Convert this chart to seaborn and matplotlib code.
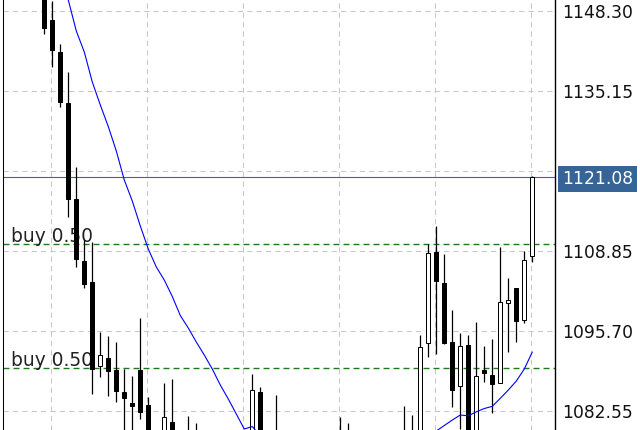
import matplotlib
matplotlib.use("Agg")
import matplotlib.pyplot as plt
import seaborn as sns
import numpy as np

# candles, oldest first; values under ~1079.5 sit below the visible window
opens = [1151.80, 1146.87, 1141.61, 1133.18, 1117.40, 1107.26, 1103.75, 1089.95,
         1091.26, 1089.34, 1085.72, 1083.91, 1089.34, 1083.59, 1078.33, 1077.83,
         1080.74, 1078.20, 1078.49, 1078.33, 1077.00, 1075.00, 1072.50, 1073.00,
         1074.50, 1073.50, 1077.01, 1085.67, 1077.80, 1075.50, 1077.00, 1074.00,
         1072.00, 1073.50, 1075.00, 1073.00, 1071.50, 1074.50, 1076.50, 1074.00,
         1072.50, 1074.00, 1076.50, 1074.00, 1075.50, 1077.00, 1078.00, 1076.00,
         1093.83, 1108.74, 1103.64, 1093.94, 1086.76, 1093.45, 1077.90, 1089.34,
         1088.57, 1087.15, 1100.30, 1102.78, 1097.51, 1108.03]
highs = [1153.44, 1149.99, 1142.92, 1138.32, 1122.76, 1110.71, 1110.33, 1095.54,
         1094.88, 1093.94, 1089.50, 1088.35, 1097.84, 1084.85, 1078.65, 1087.15,
         1087.81, 1079.00, 1081.78, 1080.71, 1078.50, 1076.50, 1074.00, 1075.50,
         1077.00, 1078.00, 1088.68, 1086.50, 1079.00, 1085.23, 1078.50, 1076.00,
         1074.50, 1076.00, 1077.50, 1075.00, 1075.50, 1081.66, 1080.68, 1076.00,
         1075.00, 1077.50, 1078.50, 1076.00, 1078.00, 1083.42, 1081.94, 1095.09,
         1110.05, 1113.01, 1108.41, 1099.20, 1095.42, 1095.09, 1097.23, 1093.33,
         1094.43, 1109.51, 1104.41, 1102.78, 1108.95, 1121.28]
lows = [1144.62, 1139.19, 1132.62, 1114.49, 1106.32, 1102.87, 1085.34, 1088.24,
        1085.11, 1084.03, 1077.83, 1077.01, 1081.28, 1076.19, 1075.37, 1076.52,
        1076.19, 1075.50, 1075.86, 1075.37, 1074.00, 1071.50, 1070.00, 1071.00,
        1072.50, 1072.00, 1076.52, 1076.68, 1074.50, 1073.00, 1073.50, 1071.00,
        1069.50, 1071.50, 1072.00, 1070.50, 1070.00, 1072.50, 1072.00, 1071.50,
        1070.00, 1072.50, 1073.00, 1071.00, 1073.50, 1074.50, 1074.00, 1075.00,
        1091.43, 1091.97, 1093.56, 1083.31, 1079.59, 1076.50, 1076.80, 1087.42,
        1082.35, 1087.15, 1092.35, 1093.99, 1097.11, 1107.04]
closes = [1145.60, 1141.94, 1133.44, 1117.50, 1107.54, 1103.52, 1089.45, 1091.76,
          1089.22, 1085.94, 1084.79, 1083.50, 1082.48, 1077.01, 1076.68, 1081.56,
          1077.50, 1076.40, 1077.50, 1076.85, 1075.00, 1072.50, 1073.00, 1074.50,
          1073.50, 1077.00, 1086.05, 1077.83, 1075.50, 1077.00, 1074.00, 1072.00,
          1073.50, 1075.00, 1073.00, 1071.50, 1074.50, 1076.50, 1074.00, 1072.50,
          1074.00, 1076.50, 1074.00, 1075.50, 1077.00, 1078.00, 1076.00, 1093.17,
          1108.52, 1104.02, 1093.83, 1086.05, 1093.28, 1077.83, 1088.35, 1088.89,
          1087.09, 1100.47, 1100.81, 1097.44, 1107.42, 1121.08]
# moving average (blue line)
ma_values = [1164.95, 1160.02, 1155.09, 1150.16, 1145.06, 1141.61, 1136.68, 1132.90,
             1129.36, 1125.34, 1120.57, 1117.12, 1113.01, 1109.23, 1106.27, 1104.13,
             1101.42, 1098.30, 1096.24, 1093.94, 1091.80, 1089.50, 1086.87, 1084.57,
             1082.11, 1079.64, 1080.05, 1078.49, 1077.80, 1077.20, 1076.70, 1076.20,
             1075.80, 1075.50, 1075.30, 1075.10, 1075.00, 1075.00, 1075.00, 1075.10,
             1075.20, 1075.40, 1075.60, 1075.90, 1076.20, 1076.60, 1077.00, 1077.60,
             1078.30, 1079.31, 1080.22, 1081.12, 1081.94, 1081.81, 1082.47, 1083.01,
             1083.37, 1084.69, 1086.05, 1087.53, 1089.50, 1092.30]

buy_levels = [1110.00, 1089.62]
buy_label = "buy 0.50"
last_price = 1121.08
grid_levels = [1148.30, 1135.15, 1122.00, 1108.85, 1095.70, 1082.55]
grid_labels = ["1148.30", "1135.15", "", "1108.85", "1095.70", "1082.55"]

sns.set_style("white")
plt.rcParams['font.family'] = ['DejaVu Sans']

fig = plt.figure(figsize=(6.4, 4.3), dpi=100)
ax = fig.add_axes([3 / 640, 0, 552 / 640, 1])

idx = np.arange(len(closes))
o = np.array(opens)
c = np.array(closes)

# grid
ax.set_yticks(grid_levels)
ax.set_yticklabels(grid_labels)
ax.set_xticks(np.arange(0.875, len(closes), 12))
ax.grid(True, color='#c8c8c8', linestyle=(0, (5, 4)), linewidth=0.75, zorder=0)
ax.set_axisbelow(True)

# order levels and current price
for lvl in buy_levels:
    ax.axhline(lvl, color='#1d7a1d', lw=1.0, ls=(0, (4.3, 2.9)), zorder=1.5)
    ax.annotate(buy_label, xy=(0, lvl), xycoords=ax.get_yaxis_transform(),
                xytext=(5.8, 1.9), textcoords='offset points', ha='left',
                va='baseline', fontsize=13.4, color='#222222', zorder=2.8)
ax.axhline(last_price, color='#3b6794', lw=0.8, zorder=1.6)

# candles
ax.vlines(idx, lows, highs, color='black', lw=0.9, zorder=3)
body_colors = ['white' if cc >= oo else 'black' for oo, cc in zip(o, c)]
ax.bar(idx, np.abs(c - o), bottom=np.minimum(o, c), width=0.46,
       color=body_colors, edgecolor='black', linewidth=0.72, zorder=4)

sns.lineplot(x=idx, y=ma_values, ax=ax, color='#0000ff', lw=0.8, zorder=5)

ax.set_xlim(-5.1625, 63.8375)
ax.set_ylim(1079.48, 1150.16)

ax.yaxis.tick_right()
ax.tick_params(axis='y', length=0, pad=5, labelsize=12.3, labelcolor='#111111')
ax.tick_params(axis='x', length=0, labelbottom=False)
ax.set_xlabel('')
ax.set_ylabel('')
for side in ['top', 'bottom']:
    ax.spines[side].set_visible(False)
ax.spines['left'].set_color('black')
ax.spines['left'].set_linewidth(0.75)
ax.spines['right'].set_color('black')
ax.spines['right'].set_linewidth(1.0)

# current price tag on the axis
ax.annotate(f"{last_price:.2f}", xy=(1, last_price), xycoords=ax.get_yaxis_transform(),
            xytext=(5, 0), textcoords='offset points', ha='left', va='center_baseline',
            fontsize=12.3, color='white', annotation_clip=False, zorder=10,
            bbox=dict(boxstyle='square,pad=0.22', fc='#376496', ec='none'))

fig.savefig('out.png', dpi=100)
